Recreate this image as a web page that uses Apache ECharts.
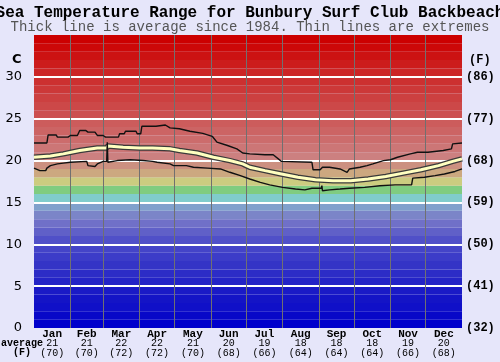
<!DOCTYPE html>
<html>
<head>
<meta charset="utf-8">
<script src="https://cdn.jsdelivr.net/npm/echarts@6/dist/echarts.min.js"></script>
<style>
html,body{margin:0;padding:0;background:#e6e6fa;}
#chart{width:500px;height:362px;}
</style>
</head>
<body>
<div id="chart"></div>
<script>
// ---- data ----
const monthNames = ['Jan','Feb','Mar','Apr','May','Jun','Jul','Aug','Sep','Oct','Nov','Dec'];
const monthLengths = [31,28,31,30,31,30,31,31,30,31,30,31];
const monthAvgC = [21,21,22,22,21,20,19,18,18,18,19,20];
const monthAvgF = [70,70,72,72,70,68,66,64,64,64,66,68];
const yTicksC = [0,5,10,15,20,25,30];

const maxDays = [0,11,12,19,20,29,31,37,39,44,46,52,54,59,61,72,73,77,78,87,88,91,92,104,105,112,116,124,133,144,152,156,165,173,178,184,197,204,211,237,238,244,246,252,261,267,269,278,284,289,298,304,310,321,327,336,349,356,357,365];
const maxTemps = [22.1,22.1,23.05,23.05,22.8,22.8,23.0,23.0,23.6,23.6,23.4,23.4,23.0,23.0,22.8,22.8,23.2,23.2,23.5,23.5,23.2,23.2,24.1,24.1,24.25,24.25,23.9,23.8,23.5,23.25,22.9,22.2,21.8,21.4,20.9,20.8,20.7,20.7,19.9,19.8,18.9,18.9,19.2,19.2,19.0,18.6,19.0,19.2,19.4,19.6,20.0,20.1,20.4,20.8,21.0,21.0,21.2,21.4,22.0,22.1];

const avgDays = [0,14,25,39,54,62,63,64,76,90,101,116,124,139,153,167,178,184,197,211,225,240,255,270,285,300,315,330,345,357,365];
const avgTemps = [20.4,20.55,20.8,21.2,21.5,21.5,21.75,21.55,21.6,21.5,21.5,21.4,21.2,20.9,20.4,20.0,19.6,19.2,18.8,18.4,18.0,17.7,17.6,17.6,17.8,18.1,18.5,18.9,19.4,19.9,20.2];

const minDays = [0,5,10,11,14,20,25,31,45,46,52,54,59,62,62.5,63,71,82,93,101,105,116,119,130,136,148,159,167,176,184,193,201,212,223,231,237,245,245.5,246,252,261,269,282,295,308,322,323,333,342,350,359,365];
const minTemps = [19.1,18.8,18.8,19.1,19.4,19.6,19.7,19.8,19.9,19.4,19.3,19.6,19.9,19.9,22.2,19.8,20.0,20.1,20.0,19.9,19.8,19.6,19.4,19.4,19.2,19.1,19.0,18.6,18.2,17.8,17.4,17.1,16.8,16.6,16.5,16.7,16.7,17.0,16.4,16.5,16.6,16.7,16.8,17.0,17.1,17.1,17.9,18.0,18.2,18.4,18.7,19.0];

// ---- styles (background temperature bands, 1 degree each from 0) ----
const bandColors = ['#0000cc','#0808c8','#1010c8','#1414c6','#1a1ac6',
  '#2424c6','#2c2cc6','#3434c6','#3c3cc8','#4444c8',
  '#5050c8','#6060c8','#7070c8','#7b85c8','#80a0cc',
  '#80cccc','#80cc80','#cccc80','#cca880','#cc9080',
  '#cc8080','#cc7676','#cc6c6c','#cc6464','#cc5c5c',
  '#cc5050','#cc4848','#cc4040','#cc3838','#cc3030',
  '#cc2626','#cc1c1c','#cc1212','#cc0808','#cc0000'];

const zip = (a,b) => a.map((v,i)=>[v,b[i]]);
const cum = [0];
monthLengths.forEach((l,i)=>cum.push(cum[i]+l));
const mids = monthLengths.map((l,i)=>cum[i]+l/2);

const chart = echarts.init(document.getElementById('chart'), null, {renderer:'canvas'});
const mono = 'Liberation Mono';

const option = {
  backgroundColor: '#e6e6fa',
  animation: false,
  title: [
    {text:'Sea Temperature Range for Bunbury Surf Club Backbeach', left:'center', top:0,
     textStyle:{fontFamily:mono, fontWeight:'bold', fontSize:16, color:'#000'}},
    {text:'Thick line is average since 1984. Thin lines are extremes', left:'center', top:15,
     textStyle:{fontFamily:mono, fontWeight:'normal', fontSize:14, color:'#555'}}
  ],
  grid: {left:34, right:38, top:35, bottom:34},
  xAxis: {
    type:'value', min:0, max:365,
    axisLine:{show:false}, axisTick:{show:false}, splitLine:{show:false},
    axisLabel:{
      customValues: mids, margin:1, interval:0,
      formatter: function(v){
        let i = mids.findIndex(m=>Math.abs(m-v)<0.6);
        if(i<0) return '';
        return '{m|'+monthNames[i]+'}\n{c|'+monthAvgC[i]+'}\n{f|('+monthAvgF[i]+')}';
      },
      rich:{
        m:{fontFamily:mono, fontWeight:'bold', fontSize:11, lineHeight:10, color:'#000'},
        c:{fontFamily:mono, fontSize:10, lineHeight:9.5, color:'#000'},
        f:{fontFamily:mono, fontSize:10, lineHeight:9.5, color:'#000'}
      }
    }
  },
  yAxis: [
    {type:'value', min:0, max:35, interval:5, position:'left',
     axisLine:{show:false}, axisTick:{show:false}, splitLine:{show:false},
     axisLabel:{margin:12, fontFamily:'DejaVu Sans', fontSize:13, color:'#000',
       formatter:v=> yTicksC.includes(v) ? String(v) : ''}},
    {type:'value', min:0, max:35, interval:5, position:'right',
     axisLine:{show:false}, axisTick:{show:false}, splitLine:{show:false},
     axisLabel:{margin:4, fontFamily:mono, fontWeight:'bold', fontSize:12, color:'#000',
       formatter:v=> yTicksC.includes(v) ? '('+Math.round(v*9/5+32)+')' : ''}}
  ],
  graphic: [
    {type:'text', left:12, top:53, style:{text:'C', font:'bold 13px "DejaVu Sans"', fill:'#000'}},
    {type:'text', left:469, top:54, style:{text:'(F)', font:'bold 12px "Liberation Mono"', fill:'#000'}},
    {type:'text', left:1, top:338, style:{text:'average', font:'bold 10px "Liberation Mono"', fill:'#000'}},
    {type:'text', left:13, top:347, style:{text:'(F)', font:'bold 10px "Liberation Mono"', fill:'#000'}}
  ],
  series: [
    {type:'line', name:'bands', data:[[0,null]], silent:true, z:1, symbol:'none',
     markArea:{silent:true, data: bandColors.map((c,i)=>[{yAxis:i, itemStyle:{color:c}},{yAxis:i+1}])}},
    {type:'line', name:'grid', data:[[0,null]], silent:true, z:2, symbol:'none',
     markLine:{silent:true, symbol:'none', label:{show:false}, animation:false,
       data: [
         ...yTicksC.filter(v=>v>0).map(v=>({yAxis:v, lineStyle:{color:'#ffffff', width:2, type:'solid'}})),
         ...cum.slice(1,12).map(d=>({xAxis:d, lineStyle:{color:'#707070', width:1, type:'solid'}}))
       ]}},
    {type:'line', name:'avgOutline', data:zip(avgDays,avgTemps), symbol:'none', z:5,
     lineStyle:{color:'#3a3a3a', width:5.5}},
    {type:'line', name:'avg', data:zip(avgDays,avgTemps), symbol:'none', z:6,
     lineStyle:{color:'#ffffc0', width:3}},
    {type:'line', name:'max', data:zip(maxDays,maxTemps), symbol:'none', z:8,
     lineStyle:{color:'#111', width:1.4}},
    {type:'line', name:'min', data:zip(minDays,minTemps), symbol:'none', z:8,
     lineStyle:{color:'#111', width:1.4}}
  ]
};
chart.setOption(option);
</script>
</body>
</html>
